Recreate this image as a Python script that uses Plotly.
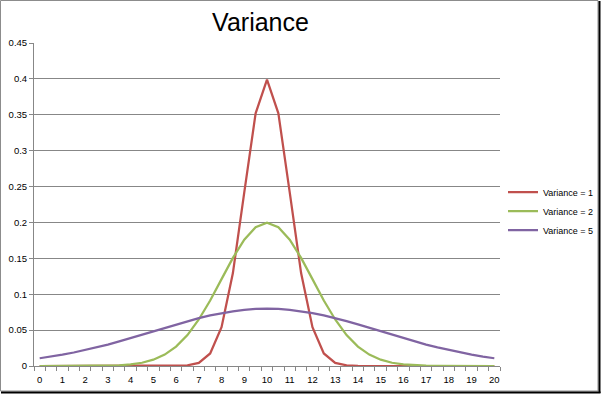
import plotly.graph_objects as go

x_vals = [0, 0.5, 1, 1.5, 2, 2.5, 3, 3.5, 4, 4.5, 5, 5.5, 6, 6.5, 7, 7.5, 8, 8.5, 9, 9.5,
          10, 10.5, 11, 11.5, 12, 12.5, 13, 13.5, 14, 14.5, 15, 15.5, 16, 16.5, 17, 17.5,
          18, 18.5, 19, 19.5, 20]

var1 = [0, 0, 0, 0, 0, 0, 0, 0, 0, 0, 0, 0, 0.0001, 0.0009, 0.0044, 0.0175, 0.054, 0.1295,
        0.242, 0.352, 0.399, 0.352, 0.242, 0.1295, 0.054, 0.0175, 0.0044, 0.0009, 0.0001,
        0, 0, 0, 0, 0, 0, 0, 0, 0, 0, 0, 0]

var2 = [0, 0, 0, 0, 0.0001, 0.0002, 0.0004, 0.001, 0.0022, 0.0045, 0.0088, 0.0159, 0.027,
        0.0431, 0.0648, 0.0913, 0.121, 0.1506, 0.176, 0.1933, 0.1995, 0.1933, 0.176, 0.1506,
        0.121, 0.0913, 0.0648, 0.0431, 0.027, 0.0159, 0.0088, 0.0045, 0.0022, 0.001, 0.0004,
        0.0002, 0.0001, 0, 0, 0, 0]

var5 = [0.0108, 0.0131, 0.0158, 0.0188, 0.0222, 0.0259, 0.0299, 0.0342, 0.0388, 0.0436,
        0.0484, 0.0532, 0.0579, 0.0624, 0.0666, 0.0704, 0.0737, 0.0762, 0.0782, 0.0796,
        0.0798, 0.0796, 0.0782, 0.0762, 0.0737, 0.0704, 0.0666, 0.0624, 0.0579, 0.0532,
        0.0484, 0.0436, 0.0388, 0.0342, 0.0299, 0.0259, 0.0222, 0.0188, 0.0158, 0.0131, 0.0108]

series_names = ["Variance = 1", "Variance = 2", "Variance = 5"]
series_colors = ["#C0504D", "#9BBB59", "#8064A2"]

y_ticks = [0, 0.05, 0.1, 0.15, 0.2, 0.25, 0.3, 0.35, 0.4, 0.45]
y_labels = ["0", "0.05", "0.1", "0.15", "0.2", "0.25", "0.3", "0.35", "0.4", "0.45"]
x_ticks = list(range(0, 21))

W, H = 601, 394
L, R, T, B = 34, 500, 43, 366

fig = go.Figure()
for name, col, ys in zip(series_names, series_colors, [var1, var2, var5]):
    fig.add_trace(go.Scatter(x=x_vals, y=ys, mode="lines", name=name,
                             line=dict(color=col, width=2.25)))

def px_x(p):
    return (p - L) / (R - L)

def px_y(p):
    return (B - p) / (B - T)

grid = "#878787"
font = "Liberation Sans, Arial, sans-serif"

fig.update_layout(
    width=W, height=H,
    margin=dict(l=L, r=W - R, t=T, b=H - B, pad=0, autoexpand=False),
    paper_bgcolor="white", plot_bgcolor="white",
    font=dict(family=font, size=9.5, color="#000000"),
    title=dict(text="Variance", x=260.5 / W, xanchor="center", xref="container",
               y=1 - 22 / H, yanchor="middle", yref="container",
               font=dict(family=font, size=25, color="#000000")),
    xaxis=dict(range=[-0.25, 20.25], tickmode="array", tickvals=x_ticks,
               ticktext=[str(v) for v in x_ticks], ticks="", showgrid=False,
               showline=True, linecolor=grid, linewidth=1, zeroline=False,
               ticklabelstandoff=5, automargin=False,
               minor=dict(ticks="outside", tick0=-0.25, dtick=0.5, ticklen=4,
                          tickcolor=grid, showgrid=False)),
    yaxis=dict(range=[0, 0.45], tickmode="array", tickvals=y_ticks, ticktext=y_labels,
               ticks="outside", ticklen=4, tickcolor=grid, showgrid=True,
               gridcolor=grid, gridwidth=1, showline=True, linecolor=grid,
               linewidth=1, zeroline=False, automargin=False),
    legend=dict(x=px_x(503), y=px_y(211), xanchor="left", yanchor="middle",
                font=dict(family=font, size=9, color="#000000"),
                bgcolor="rgba(0,0,0,0)", borderwidth=0, itemwidth=30),
    showlegend=True,
)

# chart frame
fig.add_shape(type="rect", xref="paper", yref="paper",
              x0=px_x(0.5), x1=px_x(598), y0=px_y(391), y1=px_y(0.5),
              line=dict(color="#8C8C8C", width=1), layer="below")
fig.add_shape(type="line", xref="paper", yref="paper",
              x0=px_x(599.5), x1=px_x(599.5), y0=px_y(393), y1=px_y(1),
              line=dict(color="#000000", width=2))
fig.add_shape(type="line", xref="paper", yref="paper",
              x0=px_x(1), x1=px_x(600.5), y0=px_y(392.5), y1=px_y(392.5),
              line=dict(color="#000000", width=2))

fig.write_html("out.html", config={"displayModeBar": False},
               post_script="document.body.style.margin='0';document.body.style.padding='0';"
                           "document.body.style.overflow='hidden';")
